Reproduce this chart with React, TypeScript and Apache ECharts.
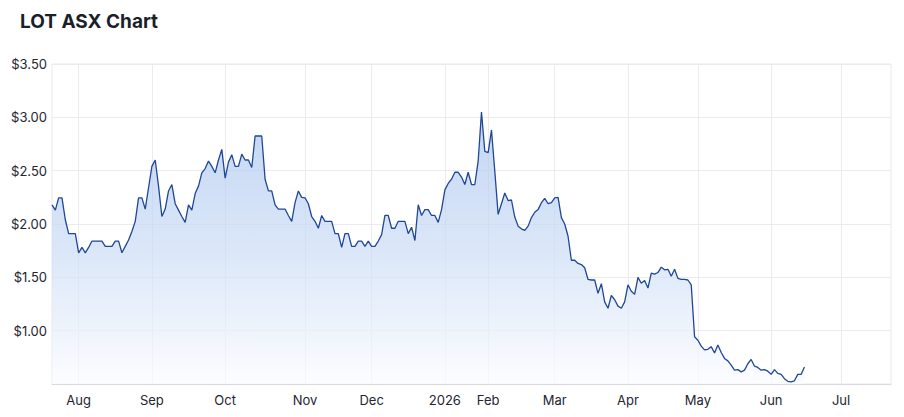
import React, { useEffect, useRef } from "react";
import * as echarts from "echarts";

const title = "LOT ASX Chart";

// Month labels and the trading-day slot where each month starts
const monthLabels = ["Aug", "Sep", "Oct", "Nov", "Dec", "2026", "Feb", "Mar", "Apr", "May", "Jun", "Jul"];
const monthIdx = [8, 30, 52, 76, 96, 118, 131, 151, 173, 194, 216, 237];
const totalSlots = 253;

// Y axis
const yMin = 0.5;
const yMax = 3.5;
const yStep = 0.5;

// Daily closing prices (AUD)
const pricesAugOct = [
  2.18, 2.13, 2.245, 2.245, 2.04, 1.91, 1.91, 1.91, 1.73, 1.78,
  1.73, 1.78, 1.84, 1.84, 1.84, 1.84, 1.79, 1.79, 1.79, 1.84,
  1.84, 1.73, 1.79, 1.85, 1.93, 2.025, 2.245, 2.245, 2.14, 2.34,
  2.54, 2.6, 2.355, 2.07, 2.14, 2.31, 2.37, 2.19, 2.13, 2.07,
  2.015, 2.18, 2.13, 2.285, 2.355, 2.48, 2.52, 2.59, 2.54, 2.48,
  2.6, 2.7, 2.43, 2.58, 2.65, 2.54, 2.54, 2.655, 2.6, 2.6,
  2.53, 2.825, 2.825, 2.825, 2.42, 2.31, 2.31, 2.18, 2.14, 2.14,
];
const pricesNovDec = [
  2.14, 2.08, 2.025, 2.2, 2.31, 2.25, 2.245, 2.19, 2.07, 2.025,
  1.96, 2.08, 2.025, 2.025, 2.025, 1.91, 1.91, 1.78, 1.91, 1.91,
  1.79, 1.79, 1.84, 1.84, 1.79, 1.84, 1.79, 1.79, 1.84, 1.9,
  2.08, 2.08, 1.96, 1.96, 2.025, 2.025, 2.025, 1.91, 1.97, 1.845,
  2.18, 2.08, 2.135, 2.135, 2.08, 2.08, 2.015,
];
const pricesJanMar = [
  2.135, 2.32, 2.38, 2.42, 2.485, 2.485, 2.44, 2.37, 2.485, 2.37,
  2.37, 2.59, 3.05, 2.68, 2.67, 2.88, 2.495, 2.09, 2.19, 2.29,
  2.22, 2.225, 2.065, 1.98, 1.955, 1.94, 1.98, 2.06, 2.11, 2.135,
  2.2, 2.24, 2.19, 2.2, 2.245, 2.25, 2.06, 2.0, 1.885, 1.66,
  1.66, 1.63, 1.62, 1.59, 1.48, 1.475, 1.475,
];
const pricesAprJun = [
  1.35, 1.44, 1.27, 1.21, 1.33, 1.29, 1.23, 1.21, 1.27, 1.43,
  1.37, 1.34, 1.5, 1.445, 1.47, 1.4, 1.54, 1.53, 1.545, 1.595,
  1.57, 1.575, 1.51, 1.575, 1.49, 1.48, 1.48, 1.475, 1.43, 0.943,
  0.91, 0.855, 0.82, 0.825, 0.85, 0.79, 0.865, 0.795, 0.74, 0.717,
  0.677, 0.63, 0.635, 0.614, 0.63, 0.69, 0.73, 0.667, 0.655, 0.63,
  0.635, 0.62, 0.59, 0.635, 0.6, 0.59, 0.55, 0.525, 0.52, 0.53,
  0.59, 0.59, 0.66,
];

const prices = [...pricesAugOct, ...pricesNovDec, ...pricesJanMar, ...pricesAprJun];

export default function App() {
  const ref = useRef<HTMLDivElement>(null);

  useEffect(() => {
    document.body.style.margin = "0";
    if (!ref.current) return;
    const chart = echarts.init(ref.current, undefined, { renderer: "svg" });

    const labelMap: Record<string, string> = {};
    monthIdx.forEach((idx, k) => {
      labelMap[String(idx)] = monthLabels[k];
    });
    const tickSet = new Set(monthIdx);
    const categories = Array.from({ length: totalSlots }, (_, i) => String(i));
    const font = "Inter, 'Noto Sans', Roboto, sans-serif";

    chart.setOption({
      animation: false,
      backgroundColor: "#ffffff",
      title: {
        text: title,
        left: 20,
        top: 12,
        padding: 0,
        textStyle: {
          fontFamily: font,
          fontSize: 19,
          fontWeight: 700,
          color: "#1b1f2b",
        },
      },
      grid: {
        left: 52,
        right: 13,
        top: 64,
        bottom: 33,
        show: true,
        borderColor: "#e8e8ea",
        borderWidth: 1,
      },
      xAxis: {
        type: "category",
        data: categories,
        boundaryGap: false,
        axisLine: { show: true, lineStyle: { color: "#dadade", width: 1 } },
        axisTick: { show: false },
        axisLabel: {
          interval: (index: number) => tickSet.has(index),
          formatter: (v: string) => labelMap[v] || "",
          margin: 9,
          fontFamily: font,
          fontSize: 13,
          color: "#222630",
        },
        splitLine: {
          show: true,
          interval: (index: number) => tickSet.has(index),
          lineStyle: { color: "#ebebee", width: 1 },
        },
      },
      yAxis: {
        type: "value",
        min: yMin,
        max: yMax,
        interval: yStep,
        axisLine: { show: false },
        axisTick: { show: false },
        axisLabel: {
          formatter: (v: number) => (v <= yMin ? "" : "$" + v.toFixed(2)),
          margin: 5,
          fontFamily: font,
          fontSize: 13,
          color: "#222630",
        },
        splitLine: { show: true, lineStyle: { color: "#ebebee", width: 1 } },
      },
      series: [
        {
          type: "line",
          data: prices,
          symbol: "none",
          smooth: false,
          lineStyle: { color: "#1f4697", width: 1.3 },
          areaStyle: {
            color: new echarts.graphic.LinearGradient(0, 0, 0, 1, [
              { offset: 0, color: "#a9c4ee" },
              { offset: 0.55, color: "#cfdff6" },
              { offset: 1, color: "#fbfcff" },
            ]),
          },
        },
      ],
    });

    return () => {
      chart.dispose();
    };
  }, []);

  return <div ref={ref} style={{ width: 904, height: 417 }} />;
}
